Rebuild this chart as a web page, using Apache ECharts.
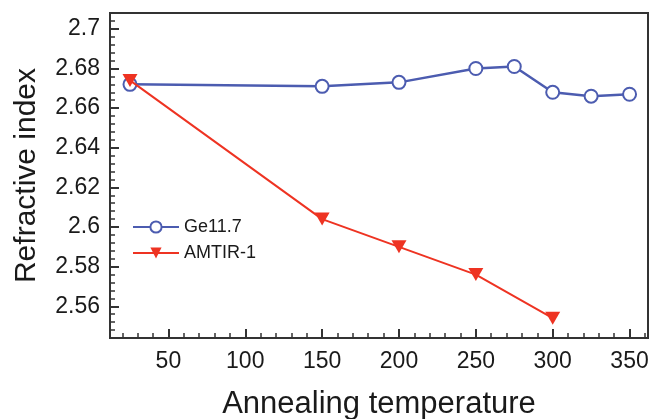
<!DOCTYPE html>
<html>
<head>
<meta charset="utf-8">
<script src="https://cdn.jsdelivr.net/npm/echarts@6/dist/echarts.min.js"></script>
<style>
  html, body { margin: 0; padding: 0; background: #fff; }
  #main { width: 650px; height: 419px; }
</style>
</head>
<body>
<div id="main"></div>
<script>
// data
var geTemps = [25, 150, 200, 250, 275, 300, 325, 350];
var geIndex = [2.672, 2.671, 2.673, 2.680, 2.681, 2.668, 2.666, 2.667];
var amTemps = [25, 150, 200, 250, 300];
var amIndex = [2.674, 2.604, 2.590, 2.576, 2.554];

// axis ticks
var xMajor = [50, 100, 150, 200, 250, 300, 350];
var xMinor = [20, 30, 40, 60, 70, 80, 90, 110, 120, 130, 140, 160, 170, 180, 190,
              210, 220, 230, 240, 260, 270, 280, 290, 310, 320, 330, 340, 360];
var yMajor = [2.56, 2.58, 2.6, 2.62, 2.64, 2.66, 2.68, 2.7];
var yMinor = [2.548, 2.552, 2.556, 2.564, 2.568, 2.572, 2.576, 2.584, 2.588, 2.592, 2.596,
              2.604, 2.608, 2.612, 2.616, 2.624, 2.628, 2.632, 2.636, 2.644, 2.648, 2.652, 2.656,
              2.664, 2.668, 2.672, 2.676, 2.684, 2.688, 2.692, 2.696, 2.704, 2.708];

var blue = '#4c5cb0';
var red = '#ee3322';
var ink = '#1a1a1a';
var font = 'Liberation Sans';

function pairs(xs, ys) {
  return xs.map(function (x, i) { return [x, ys[i]]; });
}

var myChart = echarts.init(document.getElementById('main'));
var option = {
  animation: false,
  textStyle: { fontFamily: font },
  grid: {
    left: 110, right: 2, top: 13, bottom: 81,
    outerBoundsMode: 'none',
    show: true, borderColor: '#333', borderWidth: 2
  },
  legend: {
    orient: 'vertical',
    left: 127, top: 213,
    itemWidth: 46, itemHeight: 14, itemGap: 8,
    textStyle: { fontSize: 18, color: ink, fontFamily: font },
    data: ['Ge11.7', 'AMTIR-1']
  },
  xAxis: [
    {
      type: 'value', min: 12, max: 362, position: 'bottom',
      name: 'Annealing temperature', nameLocation: 'middle', nameGap: 51,
      nameTextStyle: { fontSize: 31, color: ink, fontFamily: font },
      splitLine: { show: false },
      axisLine: { lineStyle: { color: '#333', width: 2 } },
      axisTick: { inside: true, length: 9, customValues: xMajor, lineStyle: { color: '#333', width: 2 } },
      axisLabel: { customValues: xMajor, margin: 12, fontSize: 23, color: ink, fontFamily: font }
    },
    {
      type: 'value', min: 12, max: 362, position: 'bottom',
      splitLine: { show: false },
      axisLine: { show: false },
      axisTick: { inside: true, length: 5, customValues: xMinor, lineStyle: { color: '#333', width: 1.5 } },
      axisLabel: { show: false }
    }
  ],
  yAxis: [
    {
      type: 'value', min: 2.544, max: 2.708, position: 'left',
      name: 'Refractive index', nameLocation: 'middle', nameGap: 68, nameRotate: 90,
      nameTextStyle: { fontSize: 30, color: ink, fontFamily: font },
      splitLine: { show: false },
      axisLine: { lineStyle: { color: '#333', width: 2 } },
      axisTick: { inside: true, length: 9, customValues: yMajor, lineStyle: { color: '#333', width: 2 } },
      axisLabel: { customValues: yMajor, margin: 10, fontSize: 23, color: ink, fontFamily: font }
    },
    {
      type: 'value', min: 2.544, max: 2.708, position: 'left',
      splitLine: { show: false },
      axisLine: { show: false },
      axisTick: { inside: true, length: 5, customValues: yMinor, lineStyle: { color: '#333', width: 1.5 } },
      axisLabel: { show: false }
    }
  ],
  series: [
    {
      name: 'Ge11.7',
      type: 'line',
      data: pairs(geTemps, geIndex),
      symbol: 'emptyCircle',
      symbolSize: 13,
      itemStyle: { color: blue, borderWidth: 2 },
      lineStyle: { color: blue, width: 2.5 },
      z: 2
    },
    {
      name: 'AMTIR-1',
      type: 'line',
      data: pairs(amTemps, amIndex),
      symbol: 'triangle',
      symbolRotate: 180,
      symbolSize: [15, 13],
      itemStyle: { color: red },
      lineStyle: { color: red, width: 2 },
      z: 3
    }
  ]
};
myChart.setOption(option);
</script>
</body>
</html>
